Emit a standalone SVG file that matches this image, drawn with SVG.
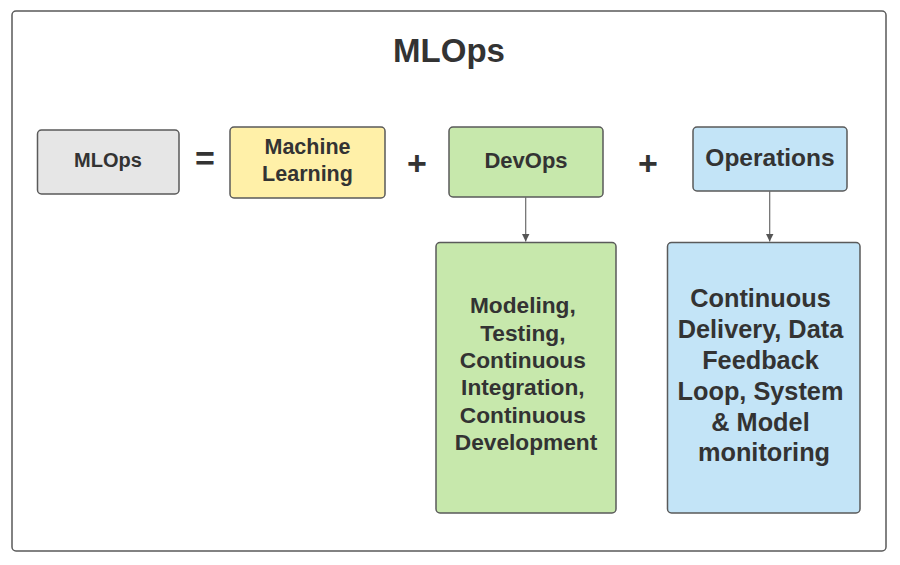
<svg xmlns="http://www.w3.org/2000/svg" width="900" height="565" viewBox="0 0 900 565">
<style>
.box{stroke:#5a5a5a;stroke-width:1.5}
.t{font-family:"Liberation Sans",Arial,sans-serif;font-weight:bold;fill:#333333;text-anchor:middle}
.conn{stroke:#6b6b6b;stroke-width:1.2;fill:none}
</style>
<defs>
<marker id="arr" viewBox="0 0 10 10" refX="10" refY="5" markerWidth="8" markerHeight="8" markerUnits="userSpaceOnUse" orient="auto">
<path d="M0,0 L10,5 L0,10 z" fill="#555555"/>
</marker>
</defs>
<rect width="900" height="565" fill="#ffffff"/>
<g id="frame">
<rect x="12" y="11" width="874" height="540" rx="4" fill="#ffffff" stroke="#5a5a5a" stroke-width="1.5"/>
<text class="t" x="449" y="62" font-size="33">MLOps</text>
</g>
<g id="mlops">
<rect class="box" x="37.5" y="130" width="141.5" height="64" rx="4" fill="#e6e6e6"/>
<text class="t" x="108" y="167" font-size="20">MLOps</text>
</g>
<g id="eq"><text class="t" x="205" y="170" font-size="34">=</text></g>
<g id="ml">
<rect class="box" x="230" y="127" width="155" height="71" rx="4" fill="#fff0a8"/>
<text class="t" x="307.5" y="154" font-size="21.5">Machine</text>
<text class="t" x="307.5" y="181" font-size="21.5">Learning</text>
</g>
<g id="plus1"><text class="t" x="417" y="175" font-size="34">+</text></g>
<g id="devops">
<rect class="box" x="449" y="127" width="154" height="70" rx="4" fill="#c7e8ac"/>
<text class="t" x="526" y="168" font-size="22">DevOps</text>
</g>
<g id="plus2"><text class="t" x="648" y="175" font-size="34">+</text></g>
<g id="operations">
<rect class="box" x="693" y="127" width="154" height="64" rx="4" fill="#c3e4f7"/>
<text class="t" x="770" y="165.5" font-size="24.5">Operations</text>
</g>
<g id="devops-detail">
<rect class="box" x="436" y="242.5" width="180" height="270.5" rx="4" fill="#c7e8ac"/>
<text class="t" font-size="22.7">
<tspan x="526" y="313">Modeling,</tspan>
<tspan x="526" y="340.5">Testing,</tspan>
<tspan x="526" y="368">Continuous</tspan>
<tspan x="526" y="395">Integration,</tspan>
<tspan x="526" y="423">Continuous</tspan>
<tspan x="526" y="450">Development</tspan>
</text>
</g>
<g id="operations-detail">
<rect class="box" x="667.5" y="242.5" width="192.5" height="270.5" rx="4" fill="#c3e4f7"/>
<text class="t" font-size="25.3">
<tspan x="764" y="307">Continuous</tspan>
<tspan x="764" y="338">Delivery, Data</tspan>
<tspan x="764" y="369">Feedback</tspan>
<tspan x="764" y="399.5">Loop, System</tspan>
<tspan x="764" y="430.5">&amp; Model</tspan>
<tspan x="764" y="461">monitoring</tspan>
</text>
</g>
<g id="connectors">
<line class="conn" x1="525.7" y1="197" x2="525.7" y2="241.5" marker-end="url(#arr)"/>
<line class="conn" x1="769.7" y1="191" x2="769.7" y2="241.5" marker-end="url(#arr)"/>
</g>
</svg>
